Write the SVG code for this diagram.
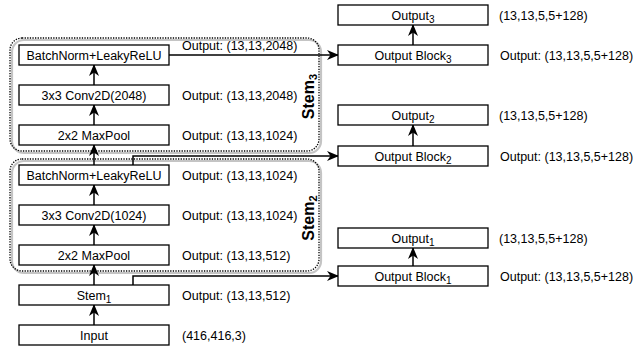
<svg xmlns="http://www.w3.org/2000/svg" width="637" height="349" viewBox="0 0 637 349">
<defs>
<marker id="arr" viewBox="0 0 12 10" refX="11" refY="5" markerWidth="12" markerHeight="10" orient="auto" markerUnits="userSpaceOnUse">
<path d="M0,0 L12,5 L0,10 L3.5,5 z" fill="#000"/>
</marker>
<style>
text{font-family:"Liberation Sans",Arial,Helvetica,sans-serif;font-size:12.5px;fill:#000}
.box{fill:#fff;stroke:#000;stroke-width:1.3}
.c{text-anchor:middle}
.grp{fill:none;stroke:#000;stroke-width:1.3;stroke-dasharray:1.3 1.3}
.shd{fill:none;stroke:#c4c4c4;stroke-width:2.2}
.stem{font-weight:bold;font-size:16px;text-anchor:middle}
.edge{fill:none;stroke:#000;stroke-width:1.5;marker-end:url(#arr)}
</style>
</defs>
<rect width="637" height="349" fill="#fff"/>

<g id="stem3-group">
<rect class="shd" x="12" y="40" width="309" height="113" rx="12"/>
<rect class="grp" x="10" y="38" width="309" height="113" rx="12"/>
<text class="stem" transform="translate(314,96.5) rotate(-90)">Stem<tspan font-size="11" dy="3">3</tspan></text>
</g>
<g id="stem2-group">
<rect class="shd" x="12" y="161" width="309" height="112" rx="12"/>
<rect class="grp" x="10" y="159" width="309" height="112" rx="12"/>
<text class="stem" transform="translate(314,218) rotate(-90)">Stem<tspan font-size="11" dy="3">2</tspan></text>
</g>

<g id="connectors">
<path class="edge" d="M94,325 V305"/>
<path class="edge" d="M94,285 V265"/>
<path class="edge" d="M94,245 V225"/>
<path class="edge" d="M94,205 V185"/>
<path class="edge" d="M94,165 V145"/>
<path class="edge" d="M94,125 V105"/>
<path class="edge" d="M94,85 V65"/>
<path class="edge" d="M169,55 H338"/>
<path class="edge" d="M133,165 V156 H338"/>
<path class="edge" d="M133,285 V276 H338"/>
<path class="edge" d="M413,45 V25"/>
<path class="edge" d="M413,146 V125"/>
<path class="edge" d="M413,266 V248"/>
</g>

<g id="bn3"><rect class="box" x="19" y="45" width="150" height="20"/><text class="c" x="94" y="59.5">BatchNorm+LeakyReLU</text><text x="182" y="50">Output: (13,13,2048)</text></g>
<g id="conv3"><rect class="box" x="19" y="85" width="150" height="20"/><text class="c" x="94" y="99.5">3x3 Conv2D(2048)</text><text x="182" y="99.5">Output: (13,13,2048)</text></g>
<g id="pool3"><rect class="box" x="19" y="125" width="150" height="20"/><text class="c" x="94" y="139.5">2x2 MaxPool</text><text x="182" y="139.5">Output: (13,13,1024)</text></g>
<g id="bn2"><rect class="box" x="19" y="165" width="150" height="20"/><text class="c" x="94" y="179.5">BatchNorm+LeakyReLU</text><text x="182" y="179.5">Output: (13,13,1024)</text></g>
<g id="conv2"><rect class="box" x="19" y="205" width="150" height="20"/><text class="c" x="94" y="219.5">3x3 Conv2D(1024)</text><text x="182" y="219.5">Output: (13,13,1024)</text></g>
<g id="pool2"><rect class="box" x="19" y="245" width="150" height="20"/><text class="c" x="94" y="259.5">2x2 MaxPool</text><text x="182" y="259.5">Output: (13,13,512)</text></g>
<g id="stem1"><rect class="box" x="19" y="285" width="150" height="20"/><text class="c" x="94" y="299.5">Stem<tspan font-size="10" dy="3">1</tspan></text><text x="182" y="299.5">Output: (13,13,512)</text></g>
<g id="input"><rect class="box" x="19" y="325" width="150" height="20"/><text class="c" x="94" y="339.5">Input</text><text x="182" y="339.5">(416,416,3)</text></g>

<g id="output3"><rect class="box" x="338" y="5" width="150" height="20"/><text class="c" x="413" y="19.5">Output<tspan font-size="10" dy="3">3</tspan></text><text x="499" y="19.5">(13,13,5,5+128)</text></g>
<g id="outblock3"><rect class="box" x="338" y="45" width="150" height="20"/><text class="c" x="413" y="59.5">Output Block<tspan font-size="10" dy="3">3</tspan></text><text x="500" y="59.5">Output: (13,13,5,5+128)</text></g>
<g id="output2"><rect class="box" x="338" y="105" width="150" height="20"/><text class="c" x="413" y="119.5">Output<tspan font-size="10" dy="3">2</tspan></text><text x="499" y="119.5">(13,13,5,5+128)</text></g>
<g id="outblock2"><rect class="box" x="338" y="146" width="150" height="20"/><text class="c" x="413" y="160.5">Output Block<tspan font-size="10" dy="3">2</tspan></text><text x="500" y="160.5">Output: (13,13,5,5+128)</text></g>
<g id="output1"><rect class="box" x="338" y="228" width="150" height="20"/><text class="c" x="413" y="242.5">Output<tspan font-size="10" dy="3">1</tspan></text><text x="499" y="242.5">(13,13,5,5+128)</text></g>
<g id="outblock1"><rect class="box" x="338" y="266" width="150" height="20"/><text class="c" x="413" y="280.5">Output Block<tspan font-size="10" dy="3">1</tspan></text><text x="500" y="280.5">Output: (13,13,5,5+128)</text></g>
</svg>
